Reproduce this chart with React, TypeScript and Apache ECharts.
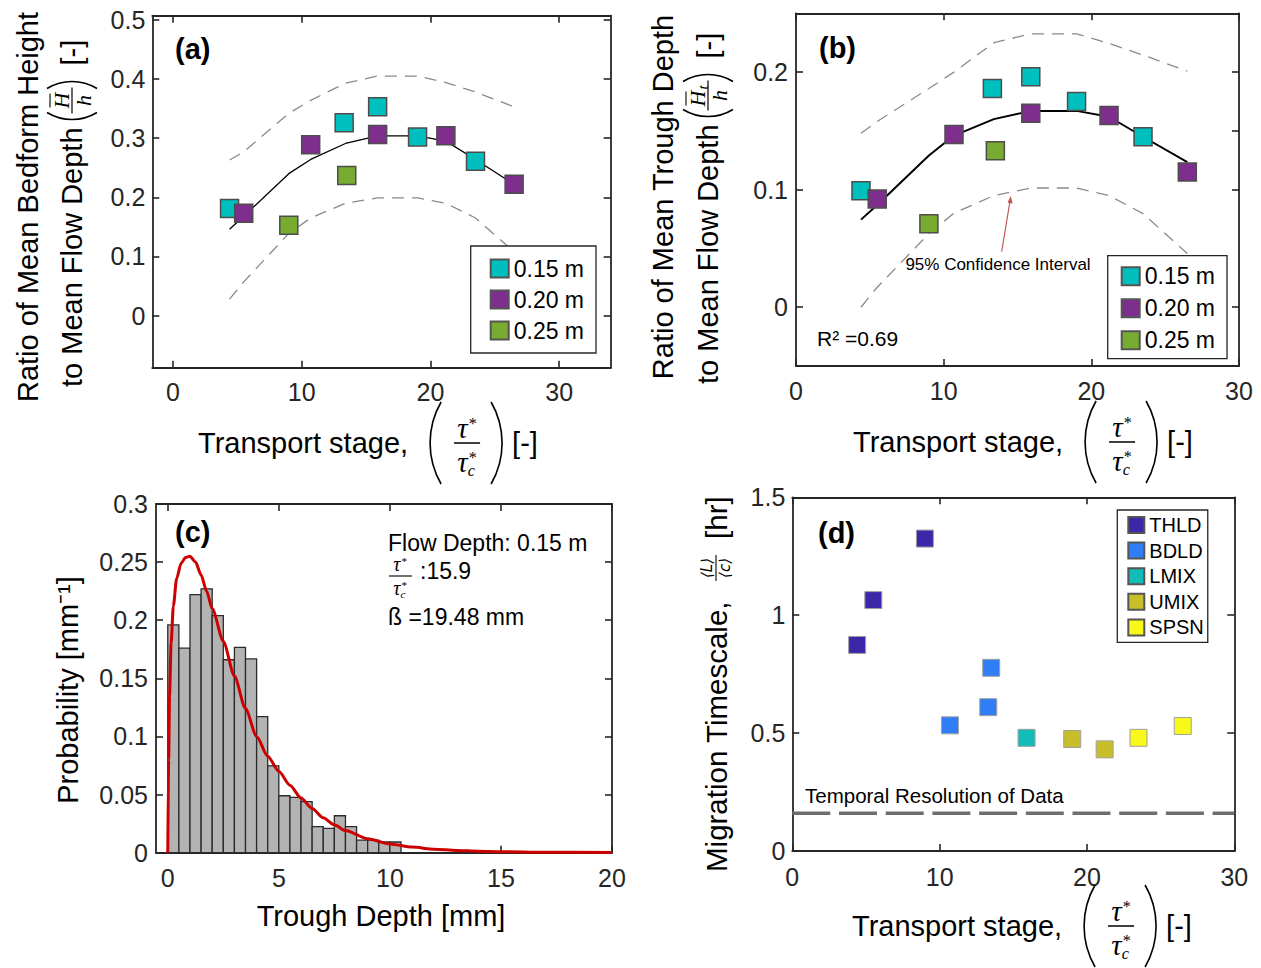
import React, { useEffect, useRef } from 'react';
import * as echarts from 'echarts';

// ---------------- data ----------------
const STAGE_015 = [4.4, 13.3, 15.9, 19.0, 23.5];
const STAGE_020 = [5.5, 10.7, 15.9, 21.2, 26.5];
const STAGE_025 = [9.0, 13.5];

const HEIGHT_015 = [0.181, 0.326, 0.353, 0.302, 0.261];
const HEIGHT_020 = [0.173, 0.289, 0.306, 0.304, 0.222];
const HEIGHT_025 = [0.153, 0.237];

const TROUGH_015 = [0.099, 0.186, 0.196, 0.175, 0.145];
const TROUGH_020 = [0.092, 0.147, 0.165, 0.163, 0.115];
const TROUGH_025 = [0.071, 0.133];

const FIT_STAGE = [4.4, 5.5, 9.0, 10.7, 13.4, 15.9, 19.0, 21.2, 23.5, 26.5];
const HEIGHT_FIT = [0.146, 0.168, 0.240, 0.264, 0.291, 0.304, 0.304, 0.295, 0.264, 0.222];
const HEIGHT_UPPER = [0.263, 0.277, 0.342, 0.364, 0.393, 0.405, 0.405, 0.394, 0.378, 0.353];
const HEIGHT_LOWER = [0.028, 0.057, 0.139, 0.165, 0.190, 0.199, 0.199, 0.190, 0.165, 0.108];

const TROUGH_FIT = [0.0745, 0.087, 0.129, 0.146, 0.160, 0.167, 0.167, 0.162, 0.145, 0.1235];
const TROUGH_UPPER = [0.148, 0.158, 0.186, 0.200, 0.225, 0.2325, 0.2325, 0.2244, 0.2145, 0.2008];
const TROUGH_LOWER = [0.0, 0.017, 0.0626, 0.080, 0.095, 0.1014, 0.1014, 0.095, 0.0796, 0.0456];

const HIST_EDGES = [0, 0.5, 1, 1.5, 2, 2.5, 3, 3.5, 4, 4.5, 5, 5.5, 6, 6.5, 7, 7.5, 8, 8.5, 9, 9.5, 10, 10.5];
const HIST_DENSITY = [0.196, 0.176, 0.222, 0.227, 0.204, 0.166, 0.1767, 0.1667, 0.117, 0.0747, 0.049, 0.0476,
  0.0439, 0.0224, 0.0209, 0.0318, 0.0224, 0.0109, 0.0109, 0.0092, 0.0092];

const PDF_DEPTH = [0, 0.04, 0.08, 0.15, 0.25, 0.4, 0.6, 0.8, 1.0, 1.25, 1.5, 1.75, 2.0, 2.5, 3.0, 3.5, 4.0, 4.5,
  5.0, 5.5, 6.0, 6.5, 7.0, 7.5, 8.0, 9.0, 10.0, 11.0, 12.0, 13.0, 14.0, 15.0, 17.0, 20.0];
const PDF_VALUE = [0, 0.08, 0.135, 0.18, 0.212, 0.236, 0.249, 0.254, 0.255, 0.25, 0.239, 0.225, 0.21, 0.182, 0.152,
  0.124, 0.1, 0.083, 0.07, 0.058, 0.047, 0.038, 0.03, 0.024, 0.019, 0.012, 0.0075, 0.0048, 0.003, 0.002, 0.0013,
  0.0009, 0.0004, 0.0001];

const REGIMES = ['THLD', 'BDLD', 'LMIX', 'UMIX', 'SPSN'];
const REGIME_STAGE = [[4.4, 5.5, 9.0], [10.7, 13.3, 13.5], [15.9], [19.0, 21.2], [23.5, 26.5]];
const REGIME_TIME = [[0.874, 1.064, 1.325], [0.533, 0.61, 0.777], [0.48], [0.475, 0.431], [0.48, 0.53]];
const REGIME_COLORS = ['#3b28a8', '#2f7ef6', '#13bdb7', '#c8be2a', '#f8f81a'];
const TEMPORAL_RESOLUTION = 0.16;

const DEPTH_NAMES = ['0.15 m', '0.20 m', '0.25 m'];
const DEPTH_COLORS = ['#00bfbf', '#7e2f8e', '#77ac30'];

const TICKS_STAGE = [0, 10, 20, 30];
const TICKS_A_Y = [0, 0.1, 0.2, 0.3, 0.4, 0.5];
const TICKS_B_Y = [0, 0.1, 0.2];
const TICKS_B_Y_RIGHT = [0, 0.1, 0.15, 0.2];
const TICKS_C_X = [0, 5, 10, 15, 20];
const TICKS_C_Y = [0, 0.05, 0.1, 0.15, 0.2, 0.25, 0.3];
const TICKS_D_Y = [0, 0.5, 1, 1.5];

// ---------------- helpers ----------------
const SANS = "'Liberation Sans', Arial, Helvetica, sans-serif";
const SERIF = "'Liberation Serif', 'DejaVu Serif', 'Times New Roman', serif";
const AX = '#262626';

let _ctx: any = null;
function tw(text: string, size: number, family = SANS, style = 'normal', weight = 'normal') {
  if (!_ctx) _ctx = document.createElement('canvas').getContext('2d');
  _ctx.font = `${style} ${weight} ${size}px ${family}`;
  return _ctx.measureText(text).width;
}

function txt(x: number, y: number, text: string, size: number, o: any = {}) {
  const align = o.align || 'left';
  const va = o.va || 'middle';
  return {
    type: 'text', x, y, silent: true, z: 10,
    style: {
      text, fontSize: size, fontFamily: o.family || SANS, fontStyle: o.style || 'normal',
      fontWeight: o.weight || 'normal', fill: o.fill || '#000',
      align, textAlign: align, verticalAlign: va, textVerticalAlign: va,
    },
  };
}

function lineEl(x1: number, y1: number, x2: number, y2: number, w: number, color = '#000') {
  return { type: 'line', silent: true, z: 10, shape: { x1, y1, x2, y2 }, style: { stroke: color, lineWidth: w } };
}

function parenArc(ax: number, cy: number, h: number, bulge: number, left: boolean, lw = 1.6) {
  const r = (h * h / 4 + bulge * bulge) / (2 * bulge);
  const a = Math.asin(h / 2 / r);
  return left
    ? { type: 'arc', silent: true, z: 10, shape: { cx: ax + r, cy, r, startAngle: Math.PI - a, endAngle: Math.PI + a, clockwise: true }, style: { stroke: '#000', lineWidth: lw, fill: 'none' } }
    : { type: 'arc', silent: true, z: 10, shape: { cx: ax - r, cy, r, startAngle: -a, endAngle: a, clockwise: true }, style: { stroke: '#000', lineWidth: lw, fill: 'none' } };
}

// tau with a superscript star (and optional subscript c)
function tauStar(cx: number, cy: number, s: number, withC: boolean) {
  const wt = tw('τ', s, SERIF, 'italic');
  const total = wt + s * 0.32;
  const x0 = cx - total / 2;
  const els: any[] = [txt(x0, cy, 'τ', s, { family: SERIF, style: 'italic' })];
  els.push(txt(x0 + wt + 1, cy - s * 0.14, '*', s * 0.56, { family: SERIF }));
  if (withC) els.push(txt(x0 + wt, cy + s * 0.32, 'c', s * 0.56, { family: SERIF, style: 'italic' }));
  return els;
}

function stageTitle(x0: number, cy: number) {
  const s = 29;
  const label = 'Transport stage,';
  const w = tw(label, s);
  const pl = x0 + w + 22;
  const fc = pl + 37;
  return [
    txt(x0, cy, label, s),
    parenArc(pl, cy, 82, 11, true),
    ...tauStar(fc, cy - 15, 29, false),
    lineEl(fc - 13, cy, fc + 13, cy, 1.5),
    ...tauStar(fc, cy + 19, 29, true),
    parenArc(pl + 72, cy, 82, 11, false),
    txt(pl + 82, cy, '[-]', s),
  ];
}

function rot(x: number, y: number, children: any[]) {
  return { type: 'group', x, y, rotation: Math.PI / 2, children };
}

function depthRatioLine(sub: string) {
  const s = 29;
  const label = 'to Mean Flow Depth';
  const w = tw(label, s);
  const pl = w + 8;
  const fw = sub ? 36 : 32;
  const fc = pl + fw / 2 + 3;
  const els: any[] = [txt(0, 0, label, s), parenArc(pl, 0, 50, 7, true)];
  if (sub) {
    els.push(txt(fc - 3, -11, 'H', 22, { family: SERIF, style: 'italic', align: 'center' }));
    els.push(txt(fc + 8, -5, 't', 15, { family: SERIF, style: 'italic', align: 'center' }));
    els.push(lineEl(fc - 10, -22, fc + 4, -22, 1.1));
  } else {
    els.push(txt(fc, -11, 'H', 22, { family: SERIF, style: 'italic', align: 'center' }));
    els.push(lineEl(fc - 7, -22, fc + 7, -22, 1.1));
  }
  els.push(lineEl(fc - fw / 2 + 3, 0, fc + fw / 2 - 3, 0, 1.2));
  els.push(txt(fc, 11, 'h', 22, { family: SERIF, style: 'italic', align: 'center' }));
  els.push(parenArc(pl + fw + 6, 0, 50, 7, false));
  els.push(txt(pl + fw + 22, 0, '[-]', s));
  return els;
}

function timescaleLine() {
  const s = 29.5;
  const label = 'Migration Timescale,';
  const w = tw(label, s);
  const fs = w + 20;
  const fc = fs + 13;
  const F = "'DejaVu Sans', sans-serif";
  return [
    txt(0, 0, label, s),
    txt(fc, -9, '⟨L⟩', 15, { align: 'center', family: F, style: 'italic' }),
    lineEl(fc - 13, 0, fc + 13, 0, 1.1),
    txt(fc, 9, '⟨c⟩', 15, { align: 'center', family: F, style: 'italic' }),
    txt(fs + 42, 0, '[hr]', s),
  ];
}

function axis(grid: number, pos: string, min: number, max: number, ticks: number[], labels: boolean, margin = 12) {
  return {
    type: 'value', gridIndex: grid, position: pos, min, max,
    splitLine: { show: false },
    axisLine: { show: true, onZero: false, lineStyle: { color: AX, width: 1.8 } },
    axisTick: { show: true, inside: true, length: 7, lineStyle: { color: AX, width: 1.6 }, customValues: ticks },
    axisLabel: { show: labels, customValues: ticks, margin, color: AX, fontSize: 25, fontFamily: SANS },
    axisPointer: { show: false },
  };
}

const pts = (xs: number[], ys: number[]) => xs.map((x, i) => [x, ys[i]]);

function depthScatter(ax: number, xs: number[][], ys: number[][]) {
  return DEPTH_NAMES.map((name, k) => ({
    type: 'scatter', name, xAxisIndex: ax, yAxisIndex: ax, data: pts(xs[k], ys[k]),
    symbol: 'rect', symbolSize: 18, z: 5, silent: true,
    itemStyle: { color: DEPTH_COLORS[k], borderColor: '#4d4d4d', borderWidth: 1.5, opacity: 1 },
  }));
}

function fitLines(ax: number, fit: number[], up: number[], lo: number[], fitWidth: number) {
  const dash = { color: '#8a8a8a', width: 1.3, type: [12, 8] };
  return [
    { type: 'line', xAxisIndex: ax, yAxisIndex: ax, data: pts(FIT_STAGE, up), symbol: 'none', lineStyle: dash, z: 2, silent: true },
    { type: 'line', xAxisIndex: ax, yAxisIndex: ax, data: pts(FIT_STAGE, lo), symbol: 'none', lineStyle: dash, z: 2, silent: true },
    { type: 'line', xAxisIndex: ax, yAxisIndex: ax, data: pts(FIT_STAGE, fit), symbol: 'none', lineStyle: { color: '#000', width: fitWidth }, z: 3, silent: true },
  ];
}

function legendBox(left: number, top: number, data: string[], o: any) {
  return {
    show: true, orient: 'vertical', left, top, data, icon: 'rect', selectedMode: false,
    itemWidth: o.iw, itemHeight: o.iw, itemGap: o.gap, padding: o.pad,
    borderColor: AX, borderWidth: 1.3, backgroundColor: '#fff', borderRadius: 0,
    textStyle: { fontSize: o.fs, fontFamily: SANS, color: '#000' },
    itemStyle: { borderColor: '#555', borderWidth: 2 },
    z: 6,
  };
}

function buildOption() {
  const graphics: any[] = [
    // panel labels
    txt(175, 49, '(a)', 29, { weight: 'bold' }),
    txt(819, 48, '(b)', 29, { weight: 'bold' }),
    txt(175, 532, '(c)', 29, { weight: 'bold' }),
    txt(818, 533, '(d)', 29, { weight: 'bold' }),
    // x titles
    ...stageTitle(198, 443),
    ...stageTitle(853, 442),
    ...stageTitle(852, 926),
    txt(381, 916, 'Trough Depth [mm]', 29, { align: 'center' }),
    // y titles
    rot(28, 207, [txt(0, 0, 'Ratio of Mean Bedform Height', 29, { align: 'center' })]),
    rot(72, 387, depthRatioLine('')),
    rot(663, 197, [txt(0, 0, 'Ratio of Mean Trough Depth', 29, { align: 'center' })]),
    rot(708, 384, depthRatioLine('t')),
    rot(68, 690, [txt(0, 0, 'Probability [mm⁻¹]', 29, { align: 'center' })]),
    rot(716, 872, timescaleLine()),
    // panel (b) annotations
    txt(998, 264, '95% Confidence Interval', 17, { align: 'center' }),
    lineEl(1001.7, 251.7, 1010, 201, 1.1, '#c0504d'),
    { type: 'polygon', silent: true, z: 10, shape: { points: [[1010.7, 196], [1012.6, 203.5], [1007.6, 202.7]] }, style: { fill: '#c0504d' } },
    txt(817, 338, 'R² =0.69', 21),
    // panel (c) annotations
    txt(388, 543, 'Flow Depth: 0.15 m', 23),
    ...tauStar(400, 564, 20, false),
    lineEl(389, 576, 412, 576, 1.1),
    ...tauStar(400, 588, 20, true),
    txt(420, 571, ':15.9', 23),
    txt(388, 617, 'ß =19.48 mm', 23),
    // panel (d) annotation
    txt(805, 795, 'Temporal Resolution of Data', 20.5),
  ];

  const grids = [
    { left: 152.3, top: 15.7, width: 458.4, height: 352 },
    { left: 796, top: 13.3, width: 443, height: 352.7 },
    { left: 156, top: 504, width: 456, height: 348.7 },
    { left: 792.3, top: 497.3, width: 442, height: 353.7 },
  ].map((g) => ({ ...g, containLabel: false, outerBoundsMode: 'none', show: false }));

  const xAxis = [
    axis(0, 'bottom', -1.6, 34, TICKS_STAGE, true, 12),
    axis(0, 'top', -1.6, 34, TICKS_STAGE, false),
    axis(1, 'bottom', 0, 30, TICKS_STAGE, true, 12),
    axis(1, 'top', 0, 30, TICKS_STAGE, false),
    axis(2, 'bottom', -0.53, 20, TICKS_C_X, true, 13),
    axis(2, 'top', -0.53, 20, TICKS_C_X, false),
    axis(3, 'bottom', 0, 30, TICKS_STAGE, true, 13),
    axis(3, 'top', 0, 30, TICKS_STAGE, false),
  ];
  const yAxis = [
    axis(0, 'left', -0.088, 0.507, TICKS_A_Y, true, 7),
    axis(0, 'right', -0.088, 0.507, TICKS_A_Y, false),
    axis(1, 'left', -0.05, 0.25, TICKS_B_Y, true, 8),
    axis(1, 'right', -0.05, 0.25, TICKS_B_Y_RIGHT, false),
    axis(2, 'left', 0, 0.3, TICKS_C_Y, true, 8),
    axis(2, 'right', 0, 0.3, TICKS_C_Y, false),
    axis(3, 'left', 0, 1.5, TICKS_D_Y, true, 7),
    axis(3, 'right', 0, 1.5, TICKS_D_Y, false),
  ];

  const series: any[] = [
    ...fitLines(0, HEIGHT_FIT, HEIGHT_UPPER, HEIGHT_LOWER, 1.3),
    ...depthScatter(0, [STAGE_015, STAGE_020, STAGE_025], [HEIGHT_015, HEIGHT_020, HEIGHT_025]),
    ...fitLines(2, TROUGH_FIT, TROUGH_UPPER, TROUGH_LOWER, 2),
    ...depthScatter(2, [STAGE_015, STAGE_020, STAGE_025], [TROUGH_015, TROUGH_020, TROUGH_025]),
    {
      type: 'custom', xAxisIndex: 4, yAxisIndex: 4, silent: true, z: 2,
      data: HIST_DENSITY.map((v, i) => [HIST_EDGES[i], HIST_EDGES[i + 1], v]),
      encode: { x: [0, 1], y: 2 },
      renderItem: (params: any, api: any) => {
        const a = api.coord([api.value(0), api.value(2)]);
        const b = api.coord([api.value(1), 0]);
        return {
          type: 'rect',
          shape: { x: a[0], y: a[1], width: b[0] - a[0], height: b[1] - a[1] },
          style: { fill: '#b3b3b3', stroke: '#2b2b2b', lineWidth: 1.3 },
        };
      },
    },
    {
      type: 'line', xAxisIndex: 4, yAxisIndex: 4, data: pts(PDF_DEPTH, PDF_VALUE), symbol: 'none',
      smooth: 0.25, smoothMonotone: 'x', lineStyle: { color: '#cc0000', width: 3 }, z: 3, silent: true,
    },
    {
      type: 'line', xAxisIndex: 6, yAxisIndex: 6, data: [[0, TEMPORAL_RESOLUTION], [30, TEMPORAL_RESOLUTION]],
      symbol: 'none', lineStyle: { color: '#6e6e6e', width: 3.3, type: [38, 8.7] }, z: 2, silent: true,
    },
    ...REGIMES.map((name, k) => ({
      type: 'scatter', name, xAxisIndex: 6, yAxisIndex: 6, data: pts(REGIME_STAGE[k], REGIME_TIME[k]),
      symbol: 'rect', symbolSize: 17, z: 5, silent: true,
      itemStyle: { color: REGIME_COLORS[k], borderColor: '#a0a0a0', borderWidth: 1, opacity: 1 },
    })),
  ];

  return {
    animation: false,
    backgroundColor: '#fff',
    grid: grids,
    xAxis,
    yAxis,
    legend: [
      legendBox(470.7, 246, DEPTH_NAMES, { iw: 18, gap: 8, pad: [11, 12, 11, 19], fs: 23 }),
      legendBox(1107.7, 255.7, DEPTH_NAMES, { iw: 18, gap: 9, pad: [9, 12, 7, 13], fs: 23 }),
      legendBox(1117.3, 510, REGIMES, { iw: 16, gap: 5.6, pad: [5, 4, 5, 10], fs: 20 }),
    ],
    tooltip: { show: false },
    series,
    graphic: { elements: graphics },
  };
}

export default function App() {
  const ref = useRef<HTMLDivElement>(null);
  useEffect(() => {
    const chart = echarts.init(ref.current!, null, { renderer: 'svg' });
    chart.setOption(buildOption() as any);
    return () => chart.dispose();
  }, []);
  return (
    <>
      <style>{'html,body{margin:0;padding:0;background:#fff;}'}</style>
      <div ref={ref} style={{ width: 1261, height: 968, background: '#fff' }} />
    </>
  );
}
